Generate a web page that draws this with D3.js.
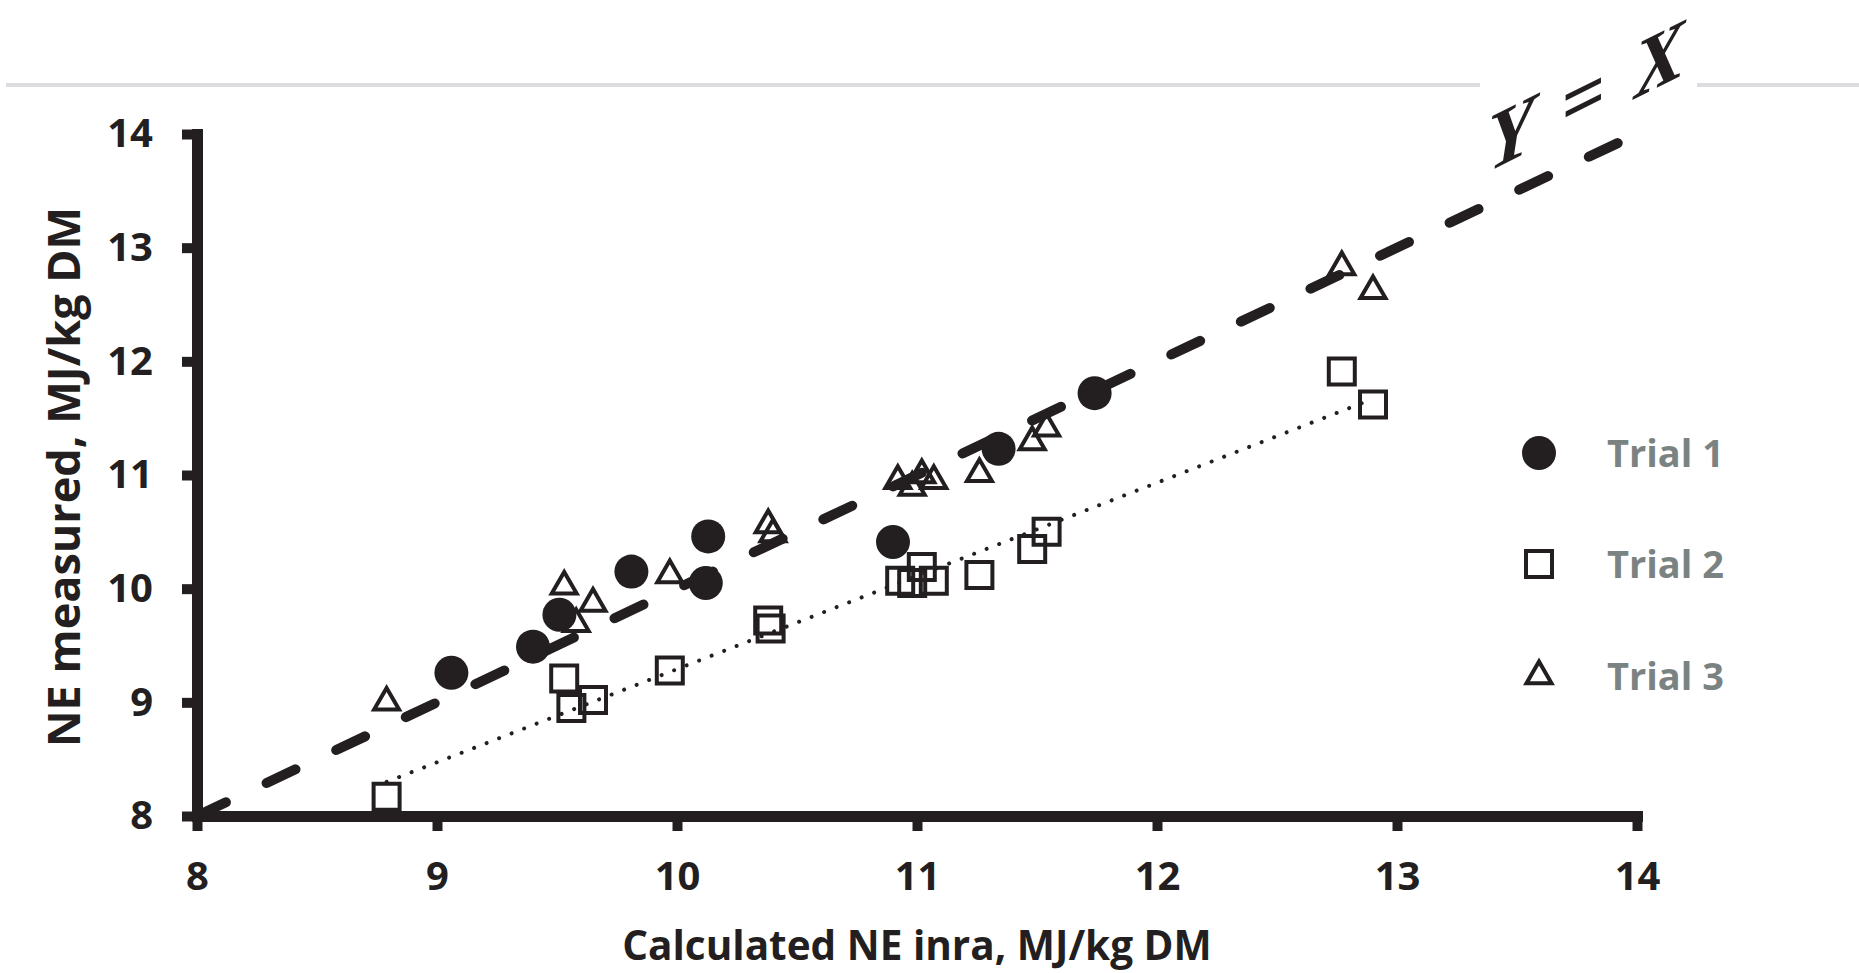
<!DOCTYPE html>
<html>
<head>
<meta charset="utf-8">
<script src="https://cdn.jsdelivr.net/npm/d3@7"></script>
<style>
  html, body { margin: 0; padding: 0; background: #fff; }
  svg { display: block; }
  .axis text { font-family: "Open Sans", sans-serif; font-weight: 700; font-size: 40px; fill: #231f20; }
</style>
</head>
<body>
<script>
// values
var trial1X = [9.06, 9.40, 9.51, 9.81, 10.13, 10.12, 10.90, 11.34, 11.74];
var trial1Y = [9.26, 9.49, 9.77, 10.15, 10.46, 10.05, 10.41, 11.23, 11.72];

var trial2X = [8.79, 9.53, 9.56, 9.65, 9.97, 10.38, 10.39, 10.93, 10.98, 11.02, 11.07, 11.26, 11.48, 11.54, 12.77, 12.90];
var trial2Y = [8.17, 9.21, 8.95, 9.02, 9.28, 9.72, 9.65, 10.07, 10.05, 10.19, 10.07, 10.12, 10.35, 10.50, 11.91, 11.62];

var trial3X = [8.79, 9.53, 9.58, 9.65, 9.97, 10.38, 10.40, 10.92, 10.98, 11.02, 11.07, 11.26, 11.48, 11.54, 12.77, 12.90];
var trial3Y = [9.00, 10.02, 9.69, 9.87, 10.12, 10.56, 10.48, 10.95, 10.89, 11.00, 10.95, 11.01, 11.29, 11.41, 12.83, 12.62];

// Y = X reference and trial 2 trend line
var refX = [8, 14];
var refY = [8, 14];
var trendX = [8.79, 12.90];
var trendY = [8.30, 11.67];

var xTicks = [8, 9, 10, 11, 12, 13, 14];
var yTicks = [8, 9, 10, 11, 12, 13, 14];
var legendLabels = ["Trial 1", "Trial 2", "Trial 3"];

var width = 1859, height = 973;
var ink = "#231f20";

var svg = d3.select("body").append("svg")
    .attr("width", width)
    .attr("height", height);

// thin grey rule at the top, broken behind the label
svg.append("line").attr("x1", 6).attr("x2", 1480).attr("y1", 85).attr("y2", 85)
    .attr("stroke", "#dcdce0").attr("stroke-width", 4);
svg.append("line").attr("x1", 1697).attr("x2", 1859).attr("y1", 85).attr("y2", 85)
    .attr("stroke", "#dcdce0").attr("stroke-width", 4);

var x = d3.scaleLinear().domain([8, 14]).range([197, 1637]);
var y = d3.scaleLinear().domain([8, 14]).range([816, 134]);

var line = d3.line()
    .x(function (d) { return x(d[0]); })
    .y(function (d) { return y(d[1]); });

svg.append("path")
    .attr("d", line(d3.zip(refX, refY)))
    .attr("fill", "none")
    .attr("stroke", ink)
    .attr("stroke-width", 10)
    .attr("stroke-linecap", "round")
    .attr("stroke-dasharray", "32,45");

svg.append("path")
    .attr("d", line(d3.zip(trendX, trendY)))
    .attr("fill", "none")
    .attr("stroke", ink)
    .attr("stroke-width", 4)
    .attr("stroke-linecap", "round")
    .attr("stroke-dasharray", "0.01,13.4");

// axes
var fmt = d3.format("d");
var xAxis = d3.axisBottom(x).tickValues(xTicks).tickFormat(fmt).tickSize(15).tickPadding(31).tickSizeOuter(0);
var yAxis = d3.axisLeft(y).tickValues(yTicks).tickFormat(fmt).tickSize(15).tickPadding(29).tickSizeOuter(0);

var gx = svg.append("g").attr("class", "axis").attr("transform", "translate(0,816)").call(xAxis);
var gy = svg.append("g").attr("class", "axis").attr("transform", "translate(197,0)").call(yAxis);

[gx, gy].forEach(function (g) {
    g.select(".domain").attr("stroke", ink).attr("stroke-width", 11).attr("stroke-linecap", "square");
    g.selectAll(".tick line").attr("stroke", ink).attr("stroke-width", 10);
});

// markers
var square = d3.symbol().type(d3.symbolSquare).size(26 * 26);
var triangle = d3.symbol().type(d3.symbolTriangle).size(270);

svg.append("g").selectAll("path")
    .data(d3.zip(trial2X, trial2Y))
    .enter().append("path")
    .attr("d", square)
    .attr("transform", function (d) { return "translate(" + x(d[0]) + "," + y(d[1]) + ")"; })
    .attr("fill", "none").attr("stroke", ink).attr("stroke-width", 4);

svg.append("g").selectAll("path")
    .data(d3.zip(trial3X, trial3Y))
    .enter().append("path")
    .attr("d", triangle)
    .attr("transform", function (d) { return "translate(" + x(d[0]) + "," + y(d[1]) + ")"; })
    .attr("fill", "none").attr("stroke", ink).attr("stroke-width", 4);

svg.append("g").selectAll("circle")
    .data(d3.zip(trial1X, trial1Y))
    .enter().append("circle")
    .attr("cx", function (d) { return x(d[0]); })
    .attr("cy", function (d) { return y(d[1]); })
    .attr("r", 17)
    .attr("fill", ink);

// axis titles
svg.append("text")
    .attr("x", 917).attr("y", 960)
    .attr("text-anchor", "middle")
    .style("font-family", "'Open Sans', sans-serif").style("font-weight", 700).style("font-size", "40.5px")
    .attr("fill", ink)
    .text("Calculated NE inra, MJ/kg DM");

svg.append("text")
    .attr("transform", "translate(80,477) rotate(-90)")
    .attr("text-anchor", "middle")
    .style("font-family", "'Open Sans', sans-serif").style("font-weight", 700).style("font-size", "45px")
    .attr("fill", ink)
    .text("NE measured, MJ/kg DM");

// Y = X label, sheared along the line
svg.append("text")
    .attr("transform", "translate(1488,172) skewY(-26.5) scale(1,1.08)")
    .attr("textLength", 197).attr("lengthAdjust", "spacing")
    .style("font-family", "'Liberation Serif', serif").style("font-style", "italic")
    .style("font-weight", 700).style("font-size", "76px")
    .attr("fill", ink)
    .text("Y = X");

// legend
var legendY = [453, 564, 676];
var legend = svg.append("g");
legend.append("circle").attr("cx", 1539).attr("cy", legendY[0]).attr("r", 17).attr("fill", ink);
legend.append("path").attr("d", square).attr("transform", "translate(1539," + legendY[1] + ")")
    .attr("fill", "none").attr("stroke", ink).attr("stroke-width", 4);
legend.append("path").attr("d", triangle).attr("transform", "translate(1539," + legendY[2] + ")")
    .attr("fill", "none").attr("stroke", ink).attr("stroke-width", 4);
legend.selectAll("text")
    .data(legendLabels)
    .enter().append("text")
    .attr("x", 1607)
    .attr("y", function (d, i) { return legendY[i] + 14; })
    .style("font-family", "'Open Sans', sans-serif").style("font-weight", 700).style("font-size", "38px")
    .attr("fill", "#7a8382")
    .text(function (d) { return d; });
</script>
</body>
</html>
